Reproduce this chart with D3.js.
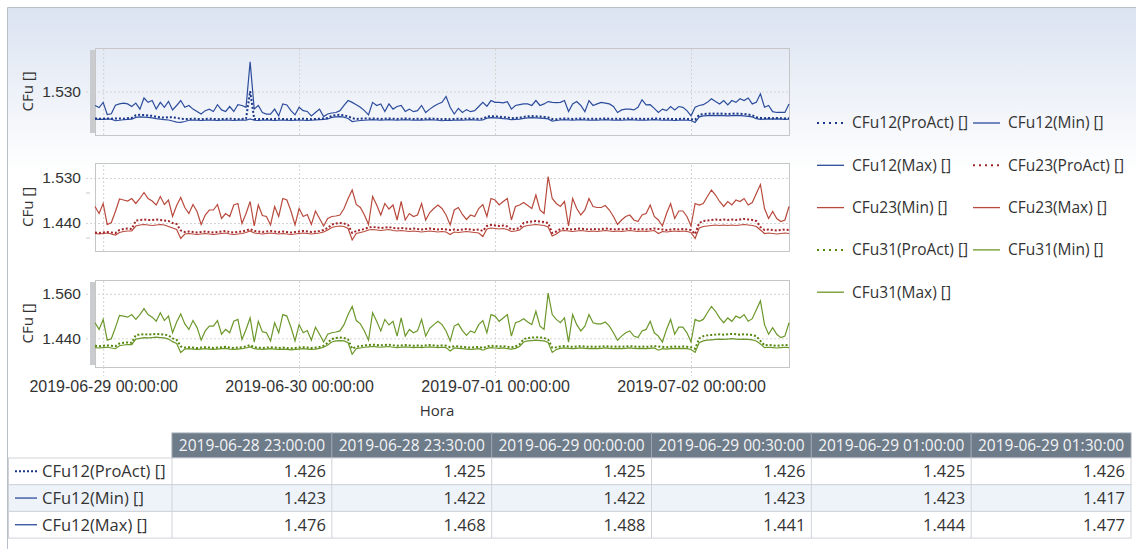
<!DOCTYPE html>
<html>
<head>
<meta charset="utf-8">
<script src="https://cdn.jsdelivr.net/npm/d3@7"></script>
<style>
body{margin:0;background:#fff;}
svg{display:block;font-family:"Open Sans",sans-serif;}
</style>
</head>
<body>
<svg id="chart" width="1136" height="549"></svg>
<script>
// time axis: one reading every 30 min
var startTime = new Date(2019, 5, 28, 23, 0, 0)
  , stepMin = 30
  , endTime = new Date(2019, 6, 2, 12, 0, 0);

var proAct12 = [1.426,1.425,1.425,1.426,1.425,1.426,1.426,1.425,1.427,1.428,1.438,1.440,1.439,1.437,1.436,1.432,1.430,1.429,1.431,1.430,1.428,1.425,1.424,
1.424,1.425,1.424,1.423,1.424,1.425,1.424,1.423,1.424,1.424,1.425,1.424,1.423,1.424,1.425,1.531,
1.424,1.423,1.424,1.424,1.423,1.424,1.425,1.424,1.423,1.424,1.423,1.424,1.425,1.424,1.423,1.424,1.425,1.426,1.428,
1.436,1.439,1.440,1.438,1.434,1.427,1.424,1.425,1.426,
1.425,1.426,1.425,1.424,1.425,1.426,1.425,1.424,1.425,1.426,1.425,1.424,1.425,1.424,1.425,1.426,1.425,1.424,1.423,1.424,1.423,1.424,1.425,1.424,1.425,1.426,1.425,1.424,1.425,
1.433,1.435,1.434,1.433,1.431,1.430,1.427,1.428,1.429,1.432,1.434,1.435,1.434,1.433,1.432,1.430,1.424,1.423,
1.425,1.426,1.425,1.424,1.425,1.426,1.425,1.424,1.425,1.424,1.425,1.426,1.425,1.424,1.425,1.424,1.425,1.426,1.425,1.424,1.425,1.424,1.425,1.426,1.425,1.424,1.425,1.424,1.423,1.424,1.425,1.424,1.423,
1.421,1.440,1.443,1.444,1.445,1.444,1.445,1.444,1.443,1.444,1.445,1.444,1.443,1.441,1.438,1.431,1.428,
1.427,1.428,1.427,1.428,1.427,1.426,1.427];

var min12 = [1.423,1.422,1.422,1.423,1.423,1.417,1.419,1.421,1.422,1.423,1.430,1.432,1.431,1.430,1.428,1.425,1.423,1.421,1.420,1.416,1.412,1.411,1.414,
1.419,1.420,1.419,1.418,1.419,1.420,1.419,1.418,1.419,1.420,1.419,1.418,1.419,1.420,1.419,1.424,
1.419,1.418,1.419,1.420,1.419,1.418,1.419,1.420,1.419,1.418,1.419,1.420,1.419,1.418,1.419,1.420,1.421,1.422,1.424,
1.430,1.432,1.433,1.431,1.426,1.414,1.416,1.418,1.419,
1.420,1.421,1.420,1.419,1.420,1.421,1.420,1.419,1.420,1.421,1.420,1.419,1.420,1.419,1.420,1.421,1.420,1.419,1.417,1.419,1.418,1.419,1.420,1.419,1.420,1.421,1.420,1.419,1.420,
1.427,1.429,1.428,1.427,1.425,1.424,1.421,1.422,1.423,1.426,1.428,1.429,1.428,1.427,1.426,1.424,1.416,1.418,
1.420,1.421,1.420,1.419,1.420,1.421,1.420,1.419,1.420,1.419,1.420,1.421,1.420,1.419,1.420,1.419,1.420,1.421,1.420,1.419,1.420,1.419,1.420,1.421,1.420,1.419,1.420,1.419,1.418,1.419,1.420,1.419,1.418,
1.410,1.432,1.436,1.437,1.438,1.437,1.438,1.437,1.436,1.437,1.438,1.437,1.436,1.434,1.432,1.425,1.422,
1.423,1.424,1.423,1.424,1.423,1.422,1.423];

var max12 = [1.476,1.468,1.488,1.441,1.444,1.477,1.482,1.485,1.482,1.472,1.485,1.462,1.505,1.488,1.495,1.462,1.488,1.469,1.492,1.459,
1.476,1.495,1.469,1.476,1.462,1.453,1.443,1.456,1.462,1.453,1.479,1.459,1.453,1.472,1.453,1.479,1.476,1.469,1.645,1.462,
1.476,1.449,1.443,1.443,1.462,1.436,1.482,1.478,1.456,1.440,1.469,1.456,1.453,1.436,1.449,1.462,1.433,1.443,1.447,1.449,
1.456,1.476,1.495,1.488,1.479,1.469,1.456,1.440,1.488,1.476,1.482,1.453,1.482,1.462,1.472,
1.476,1.453,1.462,1.452,1.456,1.476,1.449,1.462,1.473,1.482,1.488,1.511,1.469,1.443,1.465,1.449,1.460,1.452,1.456,1.472,
1.488,1.473,1.495,1.488,1.488,1.486,1.491,1.462,1.476,1.479,1.482,1.482,1.476,1.495,1.476,1.482,1.491,1.488,1.487,1.488,
1.495,1.453,1.482,1.491,1.476,1.452,1.495,1.476,1.482,1.488,1.485,1.482,1.472,1.449,1.459,1.462,1.462,1.459,1.469,1.498,
1.478,1.479,1.465,1.449,1.462,1.456,1.472,1.459,1.472,1.469,1.456,1.436,1.469,1.476,1.479,1.488,1.502,1.491,1.482,1.495,
1.478,1.495,1.488,1.502,1.495,1.505,1.482,1.488,1.521,1.469,1.476,1.452,1.449,1.449,1.449,1.482];

var proAct23 = [1.421,1.420,1.421,1.422,1.421,1.420,1.426,1.428,1.429,1.428,1.445,1.446,1.447,1.446,1.446,1.447,1.446,1.445,1.444,1.440,1.438,1.425,
1.422,1.423,1.422,1.421,1.422,1.423,1.422,1.421,1.422,1.423,1.424,1.422,1.421,1.422,1.423,1.425,1.428,
1.424,1.423,1.422,1.423,1.424,1.423,1.422,1.423,1.422,1.421,1.422,1.423,1.424,1.423,1.422,1.423,1.424,1.426,1.430,
1.437,1.439,1.440,1.439,1.436,1.420,1.424,1.426,1.428,
1.431,1.432,1.431,1.430,1.431,1.432,1.430,1.429,1.430,1.429,1.428,1.429,1.428,1.427,1.428,1.429,1.428,1.427,1.428,1.427,1.426,1.427,1.426,1.427,1.428,1.427,1.426,1.427,1.424,
1.434,1.436,1.435,1.434,1.435,1.433,1.427,1.428,1.430,1.440,1.442,1.443,1.444,1.443,1.442,1.440,1.420,1.423,
1.428,1.429,1.428,1.427,1.428,1.429,1.428,1.427,1.428,1.427,1.428,1.429,1.428,1.427,1.428,1.427,1.428,1.429,1.428,1.427,1.428,1.427,1.428,1.429,1.428,1.427,1.426,1.427,1.428,1.427,1.428,1.427,1.426,
1.418,1.440,1.444,1.445,1.446,1.447,1.446,1.447,1.446,1.447,1.446,1.447,1.448,1.447,1.446,1.444,1.432,
1.426,1.427,1.426,1.425,1.426,1.427,1.426];

var min23 = [1.419,1.418,1.419,1.420,1.418,1.416,1.421,1.423,1.424,1.424,1.434,1.436,1.437,1.436,1.435,1.436,1.437,1.436,1.433,1.430,1.427,1.409,
1.418,1.419,1.418,1.417,1.418,1.419,1.418,1.417,1.418,1.419,1.420,1.418,1.417,1.418,1.419,1.421,1.424,
1.420,1.419,1.418,1.419,1.420,1.419,1.418,1.419,1.418,1.417,1.418,1.419,1.420,1.419,1.418,1.419,1.420,1.422,1.426,
1.431,1.433,1.434,1.433,1.429,1.406,1.419,1.421,1.423,
1.426,1.427,1.426,1.425,1.426,1.427,1.425,1.424,1.425,1.424,1.423,1.424,1.423,1.422,1.423,1.424,1.423,1.422,1.423,1.422,1.417,1.422,1.421,1.422,1.423,1.422,1.421,1.420,1.413,
1.428,1.430,1.429,1.428,1.429,1.427,1.423,1.424,1.426,1.433,1.435,1.436,1.437,1.436,1.435,1.432,1.414,1.418,
1.424,1.425,1.424,1.423,1.424,1.425,1.424,1.423,1.424,1.423,1.424,1.425,1.424,1.423,1.424,1.423,1.424,1.425,1.424,1.423,1.424,1.423,1.424,1.425,1.419,1.423,1.422,1.423,1.424,1.423,1.424,1.423,1.421,
1.409,1.430,1.433,1.434,1.435,1.436,1.435,1.436,1.435,1.436,1.435,1.436,1.437,1.436,1.435,1.433,1.426,
1.419,1.420,1.419,1.418,1.419,1.420,1.419];

var max23 = [1.473,1.459,1.479,1.437,1.441,1.463,1.488,1.486,1.484,1.489,1.479,1.489,1.501,1.489,1.484,1.476,1.493,1.477,1.486,1.453,
1.475,1.491,1.471,1.459,1.477,1.463,1.437,1.456,1.466,1.466,1.477,1.449,1.459,1.453,1.476,1.479,1.439,1.459,1.483,1.434,
1.476,1.455,1.453,1.436,1.473,1.453,1.489,1.486,1.464,1.436,1.469,1.453,1.457,1.437,1.464,1.449,1.434,1.449,1.453,1.454,
1.456,1.469,1.489,1.506,1.477,1.471,1.456,1.437,1.493,1.476,1.456,1.479,1.468,1.476,1.446,
1.483,1.446,1.459,1.453,1.456,1.479,1.446,1.461,1.469,1.476,1.469,1.456,1.436,1.466,1.471,1.457,1.447,1.456,1.453,1.469,
1.477,1.453,1.489,1.486,1.476,1.483,1.489,1.446,1.473,1.476,1.481,1.475,1.469,1.496,1.466,1.459,1.533,1.489,1.479,1.473,
1.483,1.434,1.489,1.469,1.456,1.466,1.489,1.473,1.471,1.471,1.475,1.466,1.453,1.437,1.446,1.453,1.456,1.446,1.443,1.456,
1.459,1.476,1.453,1.446,1.434,1.459,1.479,1.449,1.464,1.464,1.453,1.434,1.479,1.476,1.479,1.493,1.506,1.496,1.483,1.473,
1.483,1.476,1.486,1.483,1.489,1.476,1.481,1.499,1.517,1.469,1.449,1.463,1.449,1.443,1.446,1.473];

var proAct31 = [1.420,1.419,1.420,1.421,1.420,1.419,1.426,1.428,1.429,1.428,1.449,1.450,1.451,1.450,1.451,1.452,1.451,1.450,1.448,1.440,1.436,1.418,
1.415,1.416,1.415,1.414,1.415,1.416,1.415,1.414,1.415,1.416,1.417,1.415,1.414,1.415,1.416,1.418,1.422,
1.416,1.415,1.414,1.415,1.416,1.415,1.414,1.415,1.414,1.413,1.414,1.415,1.416,1.415,1.414,1.415,1.417,1.420,1.428,
1.438,1.441,1.442,1.441,1.437,1.412,1.417,1.419,1.421,
1.422,1.423,1.422,1.421,1.422,1.423,1.421,1.420,1.421,1.422,1.421,1.420,1.421,1.420,1.421,1.422,1.421,1.420,1.421,1.420,1.416,1.419,1.418,1.417,1.416,1.415,1.416,1.417,1.414,
1.418,1.420,1.419,1.418,1.419,1.417,1.416,1.418,1.424,1.438,1.441,1.442,1.443,1.442,1.441,1.437,1.415,1.416,
1.418,1.419,1.418,1.417,1.418,1.419,1.418,1.417,1.418,1.417,1.418,1.419,1.418,1.417,1.418,1.417,1.418,1.419,1.418,1.417,1.418,1.417,1.418,1.419,1.418,1.417,1.416,1.417,1.418,1.417,1.418,1.417,1.416,
1.412,1.440,1.446,1.448,1.449,1.450,1.451,1.450,1.451,1.452,1.451,1.450,1.451,1.450,1.449,1.446,1.433,
1.421,1.422,1.421,1.420,1.421,1.422,1.421];

var min31 = [1.415,1.414,1.415,1.416,1.414,1.412,1.420,1.422,1.423,1.423,1.438,1.440,1.442,1.441,1.442,1.443,1.442,1.441,1.438,1.431,1.426,1.402,
1.411,1.412,1.411,1.410,1.411,1.412,1.411,1.410,1.411,1.412,1.413,1.411,1.410,1.411,1.412,1.414,1.417,
1.412,1.411,1.410,1.411,1.412,1.411,1.410,1.411,1.410,1.409,1.410,1.411,1.412,1.411,1.410,1.411,1.413,1.416,1.422,
1.430,1.433,1.434,1.433,1.428,1.397,1.412,1.414,1.416,
1.417,1.418,1.417,1.416,1.417,1.418,1.416,1.415,1.416,1.417,1.416,1.415,1.416,1.415,1.416,1.417,1.416,1.415,1.416,1.415,1.406,1.414,1.413,1.412,1.411,1.410,1.411,1.412,1.408,
1.413,1.415,1.414,1.413,1.414,1.412,1.411,1.413,1.418,1.430,1.433,1.434,1.435,1.434,1.433,1.429,1.402,1.410,
1.413,1.414,1.413,1.412,1.413,1.414,1.413,1.412,1.413,1.412,1.413,1.414,1.413,1.412,1.413,1.412,1.413,1.414,1.413,1.412,1.413,1.412,1.413,1.414,1.408,1.412,1.411,1.412,1.413,1.412,1.413,1.412,1.410,
1.402,1.428,1.433,1.435,1.436,1.437,1.438,1.437,1.438,1.439,1.438,1.437,1.438,1.437,1.436,1.433,1.425,
1.415,1.416,1.415,1.414,1.415,1.416,1.415];

var max31 = [1.482,1.464,1.491,1.435,1.439,1.469,1.502,1.500,1.497,1.504,1.491,1.504,1.520,1.504,1.497,1.486,1.509,1.488,1.500,1.455,
1.484,1.506,1.479,1.464,1.488,1.469,1.435,1.460,1.473,1.473,1.488,1.451,1.464,1.455,1.486,1.491,1.437,1.464,1.495,1.430,
1.486,1.458,1.455,1.433,1.482,1.455,1.504,1.500,1.470,1.433,1.477,1.455,1.461,1.435,1.470,1.451,1.430,1.451,1.455,1.457,
1.460,1.477,1.504,1.526,1.488,1.479,1.460,1.435,1.509,1.486,1.460,1.491,1.476,1.486,1.446,
1.495,1.446,1.464,1.455,1.460,1.491,1.446,1.467,1.477,1.486,1.477,1.460,1.433,1.473,1.479,1.461,1.448,1.460,1.455,1.477,
1.488,1.455,1.504,1.500,1.486,1.495,1.504,1.446,1.482,1.486,1.493,1.484,1.477,1.513,1.473,1.464,1.562,1.504,1.491,1.482,
1.495,1.430,1.504,1.477,1.460,1.473,1.504,1.482,1.479,1.479,1.484,1.473,1.455,1.435,1.446,1.455,1.460,1.446,1.442,1.460,
1.464,1.486,1.455,1.446,1.430,1.464,1.491,1.451,1.470,1.470,1.455,1.430,1.491,1.486,1.491,1.509,1.526,1.513,1.495,1.482,
1.495,1.486,1.500,1.495,1.504,1.486,1.493,1.517,1.541,1.477,1.451,1.469,1.451,1.442,1.446,1.482];

var yTicks12 = [1.530], yTicks23 = [1.530, 1.440], yTicks31 = [1.560, 1.440];
var tableCols = 6;

var W = 1136, H = 549
  , left = 95, right = 789
  , svg = d3.select('#chart');

var times = d3.range(max12.length).map(function(i) {
  return d3.timeMinute.offset(startTime, i * stepMin);
});

var x = d3.scaleTime().domain([startTime, endTime]).range([left, right]);

// background frame with the soft blue gradient at the top
var defs = svg.append('defs');
var bg = defs.append('linearGradient').attr('id', 'bg').attr('x1', 0).attr('y1', 0).attr('x2', 0).attr('y2', 1);
bg.append('stop').attr('offset', '0%').attr('stop-color', '#dbe3f1');
bg.append('stop').attr('offset', '100%').attr('stop-color', '#ffffff');
svg.append('rect').attr('x', 8).attr('y', 8).attr('width', W - 8).attr('height', 165).attr('fill', 'url(#bg)');
svg.append('path').attr('d', 'M7.5,' + H + 'V7.5H' + W).attr('fill', 'none').attr('stroke', '#b8bfcb');

var blue = {pro: '#1b3888', line: '#2c4c9c'}
  , red = {pro: '#a3272a', line: '#b84a3d'}
  , green = {pro: '#55870f', line: '#6c982b'};

var panels = [
  {top: 48, bottom: 135, domain: [1.362, 1.698], ticks: yTicks12, minor: [], bar: true, col: blue,
   series: [{name: 'CFu12(Max) []', v: max12}, {name: 'CFu12(Min) []', v: min12}, {name: 'CFu12(ProAct) []', v: proAct12, dot: true}]},
  {top: 163, bottom: 251, domain: [1.384, 1.560], ticks: yTicks23, minor: [1.500, 1.410], bar: false, col: red,
   series: [{name: 'CFu23(Max) []', v: max23}, {name: 'CFu23(Min) []', v: min23}, {name: 'CFu23(ProAct) []', v: proAct23, dot: true}]},
  {top: 280, bottom: 367, domain: [1.3627, 1.5973], ticks: yTicks31, minor: [], bar: true, col: green,
   series: [{name: 'CFu31(Max) []', v: max31}, {name: 'CFu31(Min) []', v: min31}, {name: 'CFu31(ProAct) []', v: proAct31, dot: true}]}
];

panels.forEach(function(p) {
  var y = d3.scaleLinear().domain(p.domain).range([p.bottom, p.top]);
  var g = svg.append('g');

  if (p.bar) {
    g.append('rect').attr('x', 90).attr('y', p.top + 2).attr('width', 5).attr('height', p.bottom - p.top - 4).attr('fill', '#c9cbcf');
  }

  // y grid + labels
  var yAxis = d3.axisLeft(y).tickValues(p.ticks).tickFormat(d3.format('.3f')).tickSize(-(right - 86)).tickPadding(5);
  var ya = g.append('g').attr('transform', 'translate(86,0)').call(yAxis);
  ya.select('.domain').remove();
  ya.selectAll('line').attr('stroke', '#d4d4d4').attr('stroke-dasharray', '2,2');
  ya.selectAll('text').attr('fill', '#333').style('font-size', '15.5px');

  p.minor.forEach(function(m) {
    g.append('line').attr('x1', 86).attr('x2', 90).attr('y1', y(m)).attr('y2', y(m)).attr('stroke', '#c8c8c8');
  });

  // x grid (one line per day)
  var xg = g.append('g').attr('transform', 'translate(0,' + p.bottom + ')')
    .call(d3.axisBottom(x).ticks(d3.timeDay.every(1)).tickSize(-(p.bottom - p.top)).tickFormat(''));
  xg.select('.domain').remove();
  xg.selectAll('line').attr('stroke', '#d4d4d4').attr('stroke-dasharray', '2,2');

  g.append('rect').attr('x', left + 0.5).attr('y', p.top + 0.5).attr('width', right - left).attr('height', p.bottom - p.top)
    .attr('fill', 'none').attr('stroke', '#c6c6c6');

  g.append('text').attr('transform', 'translate(33,' + ((p.top + p.bottom) / 2) + ') rotate(-90)')
    .attr('text-anchor', 'middle').attr('fill', '#333').style('font-size', '15px').text('CFu []');

  var line = d3.line().x(function(d, i) { return x(times[i]); }).y(function(d) { return y(d); });
  p.series.forEach(function(s) {
    g.append('path').datum(s.v).attr('d', line).attr('fill', 'none')
      .attr('stroke', s.dot ? p.col.pro : p.col.line)
      .attr('stroke-width', s.dot ? 2 : 1.2)
      .attr('stroke-dasharray', s.dot ? '2,2' : null);
  });
});

// bottom time axis
var xAxis = d3.axisBottom(x).ticks(d3.timeDay.every(1)).tickFormat(d3.timeFormat('%Y-%m-%d %H:%M:%S')).tickSize(9).tickPadding(5);
var xa = svg.append('g').attr('transform', 'translate(0,367)').call(xAxis);
xa.select('.domain').remove();
xa.selectAll('line').attr('stroke', '#d4d4d4').attr('stroke-dasharray', '2,2');
xa.selectAll('text').attr('fill', '#333').style('font-size', '16px');
svg.append('text').attr('x', (left + right) / 2 - 5).attr('y', 416).attr('text-anchor', 'middle')
  .attr('fill', '#333').style('font-size', '15px').text('Hora');

// legend
var legendItems = [
  {name: 'CFu12(ProAct) []', c: blue.pro, dot: true}, {name: 'CFu12(Min) []', c: blue.line},
  {name: 'CFu12(Max) []', c: blue.line}, {name: 'CFu23(ProAct) []', c: red.pro, dot: true},
  {name: 'CFu23(Min) []', c: red.line}, {name: 'CFu23(Max) []', c: red.line},
  {name: 'CFu31(ProAct) []', c: green.pro, dot: true}, {name: 'CFu31(Min) []', c: green.line},
  {name: 'CFu31(Max) []', c: green.line}
];
var lg = svg.append('g').selectAll('g').data(legendItems).enter().append('g')
  .attr('transform', function(d, i) { return 'translate(' + (i % 2 ? 973 : 817) + ',' + (123 + Math.floor(i / 2) * 42.3) + ')'; });
lg.append('line').attr('x1', 0).attr('x2', 27).attr('stroke', function(d) { return d.c; })
  .attr('stroke-width', function(d) { return d.dot ? 2 : 1.3; })
  .attr('stroke-dasharray', function(d) { return d.dot ? '2,4' : null; });
lg.append('text').attr('x', 35).attr('dy', '0.35em').attr('fill', '#333').style('font-size', '15.5px').text(function(d) { return d.name; });

// data table for CFu12
var tRows = [
  {name: 'CFu12(ProAct) []', v: proAct12, dot: true, c: blue.pro},
  {name: 'CFu12(Min) []', v: min12, c: blue.line},
  {name: 'CFu12(Max) []', v: max12, c: blue.line}
];
var colX = d3.scaleLinear().domain([0, tableCols]).range([172, 1131])
  , headTop = 433, headH = 25, rowH = 26.7
  , fmtHead = d3.timeFormat('%Y-%m-%d %H:%M:%S')
  , fmtVal = d3.format('.3f')
  , tg = svg.append('g');

tg.selectAll('rect.h').data(d3.range(tableCols)).enter().append('rect')
  .attr('x', function(k) { return colX(k); }).attr('y', headTop)
  .attr('width', colX(1) - colX(0)).attr('height', headH)
  .attr('fill', '#6e7b88').attr('stroke', '#9aa5b0');
tg.selectAll('text.h').data(d3.range(tableCols)).enter().append('text')
  .attr('x', function(k) { return (colX(k) + colX(k + 1)) / 2; }).attr('y', headTop + headH / 2).attr('dy', '0.35em')
  .attr('text-anchor', 'middle').attr('fill', '#f2f4f7').style('font-size', '15.5px')
  .text(function(k) { return fmtHead(times[k]); });

tRows.forEach(function(r, ri) {
  var yy = headTop + headH + ri * rowH;
  tg.append('rect').attr('x', 8.5).attr('y', yy).attr('width', 1131 - 8.5).attr('height', rowH)
    .attr('fill', ri === 1 ? '#eef3fa' : '#fff').attr('stroke', '#cfd3d8');
  tg.selectAll(null).data(d3.range(tableCols)).enter().append('line')
    .attr('x1', function(k) { return colX(k); }).attr('x2', function(k) { return colX(k); })
    .attr('y1', yy).attr('y2', yy + rowH).attr('stroke', '#cfd3d8');
  tg.append('line').attr('x1', 15).attr('x2', 37).attr('y1', yy + rowH / 2).attr('y2', yy + rowH / 2)
    .attr('stroke', r.c).attr('stroke-width', r.dot ? 2 : 1.3).attr('stroke-dasharray', r.dot ? '2,2' : null);
  tg.append('text').attr('x', 42).attr('y', yy + rowH / 2).attr('dy', '0.35em').attr('fill', '#333')
    .style('font-size', '16.5px').text(r.name);
  tg.selectAll(null).data(d3.range(tableCols)).enter().append('text')
    .attr('x', function(k) { return colX(k + 1) - 6; }).attr('y', yy + rowH / 2).attr('dy', '0.35em')
    .attr('text-anchor', 'end').attr('fill', '#333').style('font-size', '16.5px')
    .text(function(k) { return fmtVal(r.v[k]); });
});
</script>
</body>
</html>
